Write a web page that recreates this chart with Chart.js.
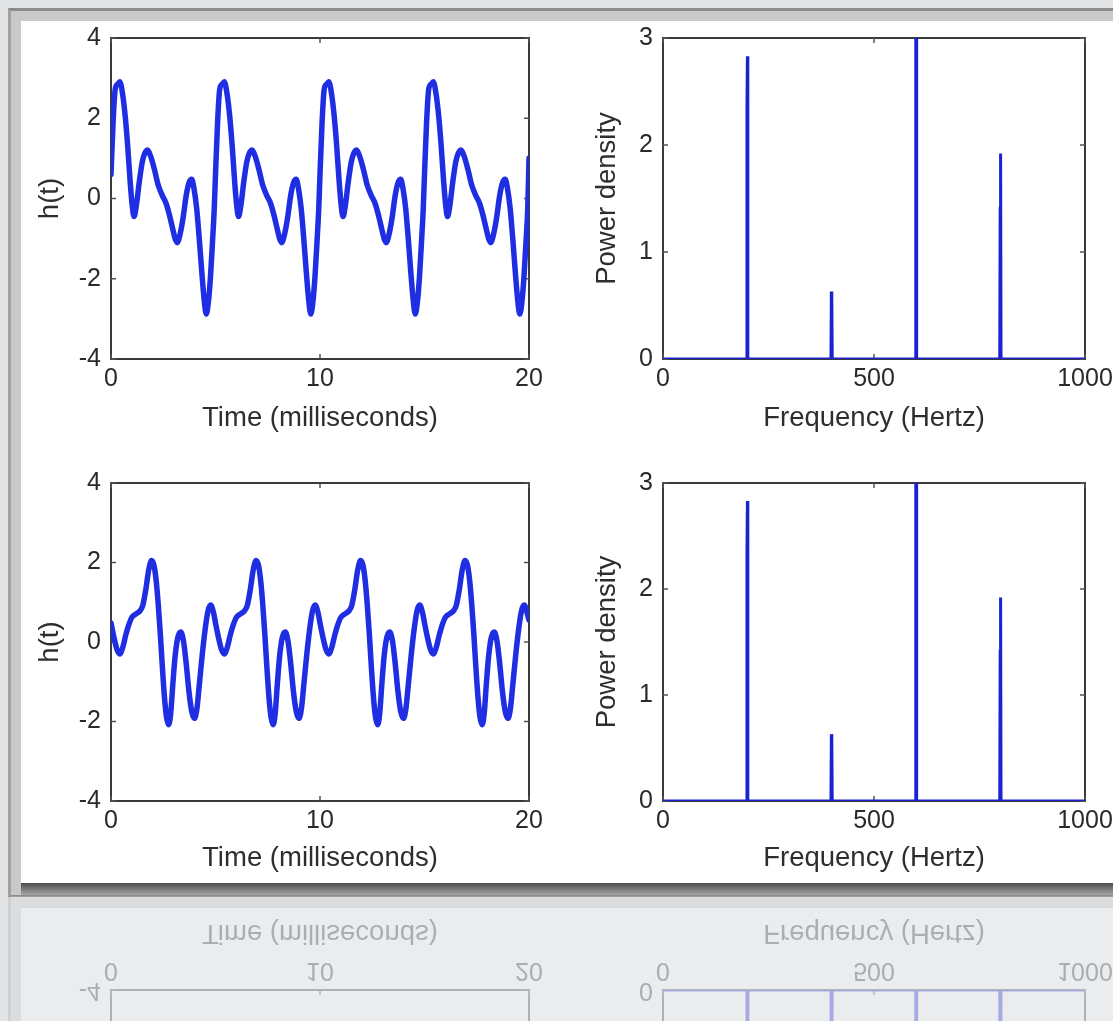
<!DOCTYPE html>
<html>
<head>
<meta charset="utf-8">
<script src="https://cdn.jsdelivr.net/npm/chart.js@4.4.1/dist/chart.umd.min.js"></script>
<style>
html,body{margin:0;padding:0;width:1113px;height:1021px;overflow:hidden;background:#e3e4e6;}
.frame{position:absolute;left:8px;top:8px;width:1200px;height:889px;box-sizing:border-box;background:#c9c9c9;border-top:3px solid #8b8b8b;border-left:3px solid #a0a0a0;border-bottom:2px solid #8e8e8e;}
.panel{position:absolute;left:21px;top:21px;width:1200px;height:862px;background:#ffffff;}
#shadow{position:absolute;left:21px;top:883px;width:1200px;height:12px;background:linear-gradient(#4a4a4a,#a6a6a6);}
canvas{position:absolute;}
#reflClip{position:absolute;left:0;top:896px;width:1113px;height:125px;overflow:hidden;}
#mirror{position:absolute;left:0;top:-896px;width:1113px;height:1792px;transform:scaleY(-1);transform-origin:0 895.5px;opacity:0.3;}
</style>
</head>
<body>
<div class="frame"></div>
<div class="panel"></div>
<div id="shadow"></div>
<canvas id="cTL" width="540" height="428" style="left:21px;top:13px;width:540px;height:428px"></canvas>
<canvas id="cTR" width="580" height="428" style="left:561px;top:13px;width:580px;height:428px"></canvas>
<canvas id="cBL" width="540" height="425" style="left:21px;top:458px;width:540px;height:425px"></canvas>
<canvas id="cBR" width="580" height="425" style="left:561px;top:458px;width:580px;height:425px"></canvas>
<div id="reflClip"><div id="mirror">
  <div class="frame"></div>
  <div class="panel"></div>
  <canvas id="rBL" width="540" height="425" style="left:21px;top:458px;width:540px;height:425px"></canvas>
  <canvas id="rBR" width="580" height="425" style="left:561px;top:458px;width:580px;height:425px"></canvas>
</div></div>
<script>
// ---------- DATA ----------
const timeTicks = [0, 10, 20];
const waveTicks = [-4, -2, 0, 2, 4];
const freqTicks = [0, 500, 1000];
const powerTicks = [0, 1, 2, 3];

// upper waveform h(t), time in ms
const timeTop = [
  0,0.1,0.2,0.32,0.42,0.55,0.68,0.8,0.92,1.02,1.1,1.22,1.35,1.5,1.62,1.75,1.9,2.08,2.25,2.45,2.62,2.78,2.95,3.08,3.17,3.3,3.45,3.6,3.74,3.86,3.98,4.1,4.22,4.34,4.45,4.56,4.66,4.76,4.86,4.94,
  5,5.1,5.2,5.32,5.42,5.55,5.68,5.8,5.92,6.02,6.1,6.22,6.35,6.5,6.62,6.75,6.9,7.08,7.25,7.45,7.62,7.78,7.95,8.08,8.17,8.3,8.45,8.6,8.74,8.86,8.98,9.1,9.22,9.34,9.45,9.56,9.66,9.76,9.86,9.94,
  10,10.1,10.2,10.32,10.42,10.55,10.68,10.8,10.92,11.02,11.1,11.22,11.35,11.5,11.62,11.75,11.9,12.08,12.25,12.45,12.62,12.78,12.95,13.08,13.17,13.3,13.45,13.6,13.74,13.86,13.98,14.1,14.22,14.34,14.45,14.56,14.66,14.76,14.86,14.94,
  15,15.1,15.2,15.32,15.42,15.55,15.68,15.8,15.92,16.02,16.1,16.22,16.35,16.5,16.62,16.75,16.9,17.08,17.25,17.45,17.62,17.78,17.95,18.08,18.17,18.3,18.45,18.6,18.74,18.86,18.98,19.1,19.22,19.34,19.45,19.56,19.66,19.76,19.86,19.94,
  20
];
const waveTop = [
  0.6,1.9,2.72,2.85,2.91,2.62,2.05,1.3,0.4,-0.2,-0.45,-0.15,0.4,0.92,1.13,1.21,1.05,0.72,0.35,0.08,-0.1,-0.38,-0.75,-1.02,-1.1,-0.9,-0.48,0.08,0.4,0.48,0.22,-0.25,-0.98,-1.8,-2.48,-2.88,-2.58,-1.95,-1.05,-0.25,
  0.6,1.9,2.72,2.85,2.91,2.62,2.05,1.3,0.4,-0.2,-0.45,-0.15,0.4,0.92,1.13,1.21,1.05,0.72,0.35,0.08,-0.1,-0.38,-0.75,-1.02,-1.1,-0.9,-0.48,0.08,0.4,0.48,0.22,-0.25,-0.98,-1.8,-2.48,-2.88,-2.58,-1.95,-1.05,-0.25,
  0.6,1.9,2.72,2.85,2.91,2.62,2.05,1.3,0.4,-0.2,-0.45,-0.15,0.4,0.92,1.13,1.21,1.05,0.72,0.35,0.08,-0.1,-0.38,-0.75,-1.02,-1.1,-0.9,-0.48,0.08,0.4,0.48,0.22,-0.25,-0.98,-1.8,-2.48,-2.88,-2.58,-1.95,-1.05,-0.25,
  0.6,1.9,2.72,2.85,2.91,2.62,2.05,1.3,0.4,-0.2,-0.45,-0.15,0.4,0.92,1.13,1.21,1.05,0.72,0.35,0.08,-0.1,-0.38,-0.75,-1.02,-1.1,-0.9,-0.48,0.08,0.4,0.48,0.22,-0.25,-0.98,-1.8,-2.48,-2.88,-2.58,-1.95,-1.05,-0.25,
  1.0
];

// lower waveform h(t), time in ms
const timeBottom = [
  0,0.14,0.28,0.42,0.56,0.7,0.85,1,1.18,1.38,1.52,1.66,1.8,1.94,2.06,2.16,2.26,2.36,2.46,2.56,2.66,2.76,2.86,2.96,3.07,3.2,3.34,3.47,3.6,3.73,3.86,3.99,4.11,4.23,4.36,4.5,4.64,4.77,4.9,
  5,5.14,5.28,5.42,5.56,5.7,5.85,6,6.18,6.38,6.52,6.66,6.8,6.94,7.06,7.16,7.26,7.36,7.46,7.56,7.66,7.76,7.86,7.96,8.07,8.2,8.34,8.47,8.6,8.73,8.86,8.99,9.11,9.23,9.36,9.5,9.64,9.77,9.9,
  10,10.14,10.28,10.42,10.56,10.7,10.85,11,11.18,11.38,11.52,11.66,11.8,11.94,12.06,12.16,12.26,12.36,12.46,12.56,12.66,12.76,12.86,12.96,13.07,13.2,13.34,13.47,13.6,13.73,13.86,13.99,14.11,14.23,14.36,14.5,14.64,14.77,14.9,
  15,15.14,15.28,15.42,15.56,15.7,15.85,16,16.18,16.38,16.52,16.66,16.8,16.94,17.06,17.16,17.26,17.36,17.46,17.56,17.66,17.76,17.86,17.96,18.07,18.2,18.34,18.47,18.6,18.73,18.86,18.99,19.11,19.23,19.36,19.5,19.64,19.77,19.9,
  20
];
const waveBottom = [
  0.48,0.12,-0.18,-0.3,-0.14,0.16,0.43,0.62,0.7,0.78,0.92,1.3,1.8,2.05,1.92,1.55,0.95,0.2,-0.65,-1.4,-1.9,-2.08,-1.78,-1.05,-0.35,0.12,0.25,0.02,-0.55,-1.25,-1.74,-1.92,-1.68,-1.05,-0.35,0.3,0.78,0.93,0.75,
  0.48,0.12,-0.18,-0.3,-0.14,0.16,0.43,0.62,0.7,0.78,0.92,1.3,1.8,2.05,1.92,1.55,0.95,0.2,-0.65,-1.4,-1.9,-2.08,-1.78,-1.05,-0.35,0.12,0.25,0.02,-0.55,-1.25,-1.74,-1.92,-1.68,-1.05,-0.35,0.3,0.78,0.93,0.75,
  0.48,0.12,-0.18,-0.3,-0.14,0.16,0.43,0.62,0.7,0.78,0.92,1.3,1.8,2.05,1.92,1.55,0.95,0.2,-0.65,-1.4,-1.9,-2.08,-1.78,-1.05,-0.35,0.12,0.25,0.02,-0.55,-1.25,-1.74,-1.92,-1.68,-1.05,-0.35,0.3,0.78,0.93,0.75,
  0.48,0.12,-0.18,-0.3,-0.14,0.16,0.43,0.62,0.7,0.78,0.92,1.3,1.8,2.05,1.92,1.55,0.95,0.2,-0.65,-1.4,-1.9,-2.08,-1.78,-1.05,-0.35,0.12,0.25,0.02,-0.55,-1.25,-1.74,-1.92,-1.68,-1.05,-0.35,0.3,0.78,0.93,0.75,
  0.55
];

// power spectra (Hz) — identical for both signals
const freqHz = [0, 198, 199, 200, 201, 398, 399, 400, 401, 598, 599, 600, 601, 798, 799, 800, 801, 1000];
const powerTop = [0, 0, 2.36, 2.83, 0, 0, 0.63, 0.58, 0, 0, 3.3, 3.6, 0, 0, 1.41, 1.92, 0, 0];
const powerBottom = [0, 0, 2.36, 2.83, 0, 0, 0.63, 0.58, 0, 0, 3.3, 3.6, 0, 0, 1.41, 1.92, 0, 0];

// ---------- STYLE ----------
const FONT = "'Liberation Sans', Arial, Helvetica, sans-serif";
const WAVE_COLOR = '#1f2ee3';
const SPEC_COLOR = '#1a22d2';
const TICK_SIZE = 25;
const TITLE_SIZE = 27.5;

const boxPlugin = {
  id: 'matlabBox',
  beforeDatasetsDraw(chart) {
    const {ctx, chartArea: a, scales: {x, y}} = chart;
    ctx.save();
    ctx.strokeStyle = '#3a3a3a';
    ctx.lineWidth = 2;
    ctx.strokeRect(a.left, a.top, a.right - a.left, a.bottom - a.top);
    ctx.lineWidth = 1.5;
    ctx.strokeStyle = '#555';
    const L = 5;
    ctx.beginPath();
    x.ticks.forEach(t => {
      const p = x.getPixelForValue(t.value);
      ctx.moveTo(p, a.bottom); ctx.lineTo(p, a.bottom - L);
      ctx.moveTo(p, a.top); ctx.lineTo(p, a.top + L);
    });
    y.ticks.forEach(t => {
      const p = y.getPixelForValue(t.value);
      ctx.moveTo(a.left, p); ctx.lineTo(a.left + L, p);
      ctx.moveTo(a.right, p); ctx.lineTo(a.right - L, p);
    });
    ctx.stroke();
    ctx.restore();
  }
};

function axisX(min, max, ticksArr, title, titlePadBottom) {
  return {
    type: 'linear', min, max,
    afterBuildTicks: s => { s.ticks = ticksArr.map(v => ({value: v})); },
    afterFit: s => { s.height = 82; },
    grid: {display: false, drawTicks: false}, border: {display: false},
    ticks: {autoSkip: false, maxRotation: 0, padding: 5, color: '#2a2a2a',
            font: {family: FONT, size: TICK_SIZE}, callback: v => String(v)},
    title: {display: true, text: title, color: '#2e2e2e', font: {family: FONT, size: TITLE_SIZE},
            padding: {top: 0, bottom: titlePadBottom}}
  };
}
function axisY(min, max, ticksArr, title, width, titlePadTop) {
  return {
    type: 'linear', min, max,
    afterBuildTicks: s => { s.ticks = ticksArr.map(v => ({value: v})); },
    afterFit: s => { s.width = width; },
    grid: {display: false, drawTicks: false}, border: {display: false},
    ticks: {autoSkip: false, padding: 10, color: '#2a2a2a',
            font: {family: FONT, size: TICK_SIZE}, callback: v => String(v)},
    title: {display: true, text: title, color: '#2e2e2e', font: {family: FONT, size: TITLE_SIZE},
            padding: {top: titlePadTop, bottom: 0}}
  };
}
function baseOptions(padRight, xs, ys) {
  return {
    responsive: false, animation: false, devicePixelRatio: 1,
    layout: {padding: {top: 0, right: padRight, left: 0, bottom: 0}},
    plugins: {legend: {display: false}, tooltip: {enabled: false}},
    elements: {point: {radius: 0}},
    scales: {x: xs, y: ys}
  };
}
function waveChart(id, t, h, titlePad) {
  return new Chart(document.getElementById(id), {
    type: 'line',
    data: {datasets: [{data: t.map((v, i) => ({x: v, y: h[i]})), borderColor: WAVE_COLOR,
      borderWidth: 5.5, pointRadius: 0, cubicInterpolationMode: 'monotone', fill: false,
      borderJoinStyle: 'round', borderCapStyle: 'round'}]},
    options: baseOptions(32,
      axisX(0, 20, timeTicks, 'Time (milliseconds)', titlePad),
      axisY(-4, 4, waveTicks, 'h(t)', 90, 12.5)),
    plugins: [boxPlugin]
  });
}
function specChart(id, f, p, titlePad) {
  return new Chart(document.getElementById(id), {
    type: 'line',
    data: {datasets: [{data: f.map((v, i) => ({x: v, y: p[i]})), borderColor: SPEC_COLOR,
      borderWidth: 3, pointRadius: 0, tension: 0, fill: false}]},
    options: baseOptions(56,
      axisX(0, 1000, freqTicks, 'Frequency (Hertz)', titlePad),
      axisY(0, 3, powerTicks, 'Power density', 102, 29.5)),
    plugins: [boxPlugin]
  });
}

waveChart('cTL', timeTop, waveTop, 6.5);
specChart('cTR', freqHz, powerTop, 6.5);
waveChart('cBL', timeBottom, waveBottom, 8);
specChart('cBR', freqHz, powerBottom, 8);
// reflection copies
waveChart('rBL', timeBottom, waveBottom, 8);
specChart('rBR', freqHz, powerBottom, 8);
</script>
</body>
</html>
